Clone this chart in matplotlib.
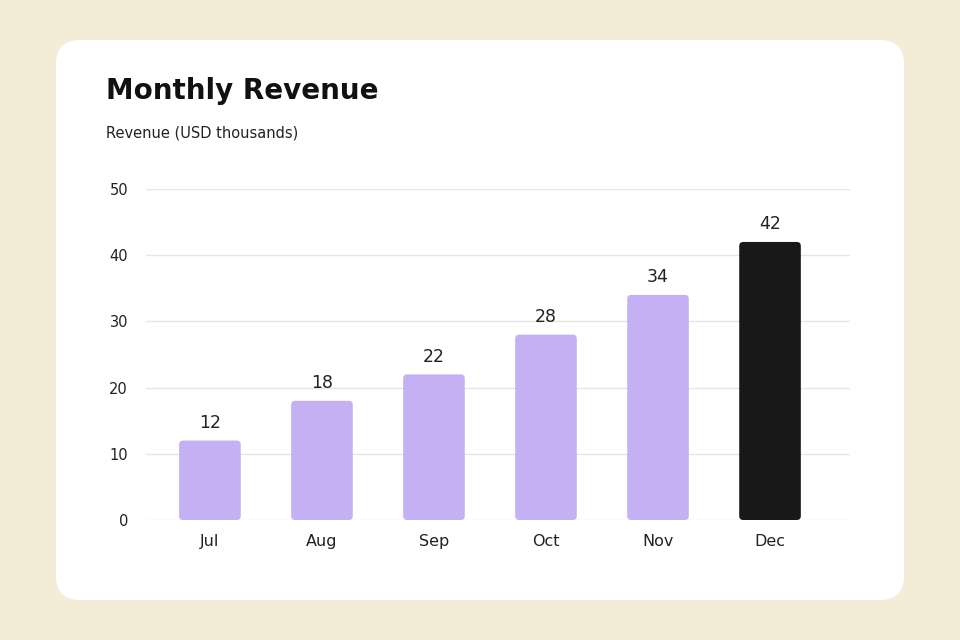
import matplotlib.pyplot as plt
from matplotlib.patches import FancyBboxPatch

plt.rcParams['font.family'] = ['DejaVu Sans']

months = ['Jul', 'Aug', 'Sep', 'Oct', 'Nov', 'Dec']
revenue = [12, 18, 22, 28, 34, 42]
colors = ['#C4B0F3'] * 5 + ['#181818']

fig = plt.figure(figsize=(9.6, 6.4), dpi=100)
fig.patch.set_facecolor('#F5ECD7')

# white card, drawn beneath the axes
card = FancyBboxPatch((56 / 960, 40 / 640), 848 / 960, 560 / 640,
                      boxstyle='round,pad=0,rounding_size=0.025',
                      transform=fig.transFigure, facecolor='white',
                      edgecolor='none', mutation_aspect=1.5, zorder=-1)
fig.patches.append(card)

fig.text(106 / 960, 1 - 91 / 640, 'Monthly Revenue', fontsize=20,
         fontweight='bold', color='#111111', va='center')
fig.text(106 / 960, 1 - 133 / 640, 'Revenue (USD thousands)', fontsize=10.5,
         color='#222222', va='center')

ax = fig.add_axes([146 / 960, 120 / 640, 704 / 960, 331 / 640])
ax.set_facecolor('none')
ax.set_xlim(-0.571, 5.714)
ax.set_ylim(0, 50)

bars = ax.bar(range(len(months)), revenue, width=0.55, color=colors)
aspect = (50 / 331) / (1 / 112)
for b, c in zip(bars, colors):
    b.set_visible(False)
    p = FancyBboxPatch((b.get_x(), b.get_y()), b.get_width(), b.get_height(),
                       boxstyle='round,pad=0,rounding_size=0.036',
                       mutation_aspect=aspect, facecolor=c, edgecolor='none',
                       zorder=3)
    ax.add_patch(p)
    ax.text(b.get_x() + b.get_width() / 2, b.get_height() + 1.3,
            str(int(b.get_height())), ha='center', va='bottom',
            fontsize=12.5, color='#222222')

ax.set_yticks(range(0, 51, 10))
ax.grid(axis='y', color='#E6E6E6', linewidth=1)
ax.set_axisbelow(True)
ax.set_xticks(range(len(months)))
ax.set_xticklabels(months, fontsize=11.5, color='#222222')
ax.tick_params(axis='y', labelsize=10.5, labelcolor='#222222', length=0, pad=13)
ax.tick_params(axis='x', length=0, pad=10)
for s in ax.spines.values():
    s.set_visible(False)

fig.savefig('out.png', dpi=100, facecolor=fig.get_facecolor())
